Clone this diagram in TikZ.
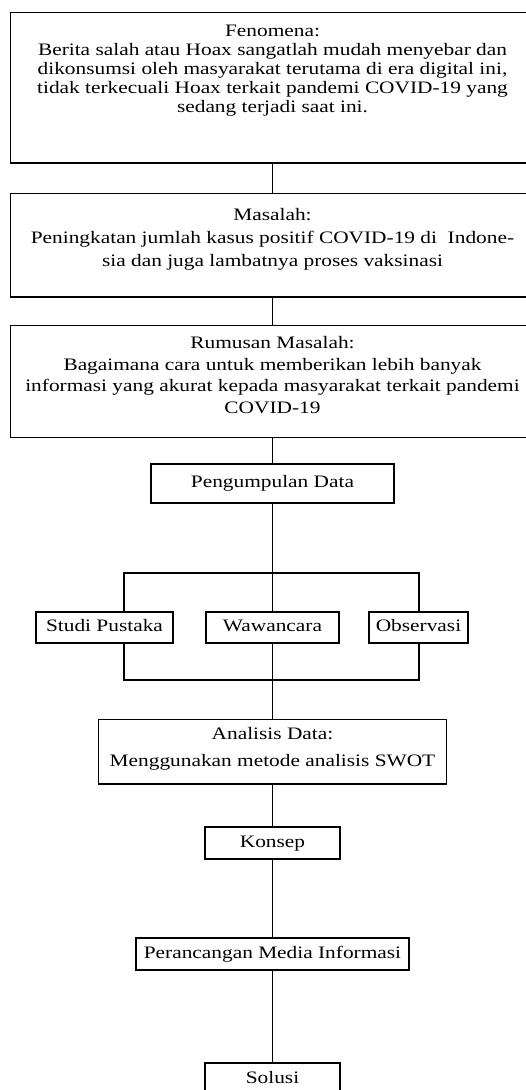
\documentclass[tikz,border=0pt]{standalone}
\usepackage{fontspec}
\setmainfont{Liberation Serif}[FakeStretch=1.22]
\usetikzlibrary{positioning}

\begin{document}
\begin{tikzpicture}[x=1pt,y=-1pt,line width=1.3pt,
  bigbox/.style={draw,line width=1.4pt,align=center,anchor=north,inner xsep=2pt,minimum width=524pt},
  smallbox/.style={draw,line width=1.4pt,align=center,inner sep=0pt,text height=12pt,text depth=4pt,font=\fontsize{17.5}{19}\selectfont}]
  \useasboundingbox (0,0) rectangle (526,1090);
  \clip (0,0) rectangle (526,1090);
  % stages, top to bottom
  \node[bigbox,inner ysep=12pt,text depth=39pt,font=\fontsize{17.5}{19}\selectfont] (fen) at (272.5,12)
    {Fenomena:\\Berita salah atau Hoax sangatlah mudah menyebar dan\\dikonsumsi oleh masyarakat terutama di era digital ini,\\tidak terkecuali Hoax terkait pandemi COVID-19 yang\\sedang terjadi saat ini.};
  \node[bigbox,inner ysep=15pt,text depth=15pt,font=\fontsize{17.5}{23}\selectfont] (mas) at (272.5,193)
    {Masalah:\\Peningkatan jumlah kasus positif COVID-19 di\ \ Indone-\\sia dan juga lambatnya proses vaksinasi};
  \node[bigbox,inner ysep=11pt,text depth=13pt,font=\fontsize{17.5}{21.5}\selectfont] (rum) at (272.5,325)
    {Rumusan Masalah:\\Bagaimana cara untuk memberikan lebih banyak\\informasi yang akurat kepada masyarakat terkait pandemi\\COVID-19};
  \node[smallbox,minimum width=243pt,minimum height=39pt] (pen) at (272.5,483.5) {Pengumpulan Data};
  \node[smallbox,minimum width=137pt,minimum height=31pt] (stu) at (104.5,627.5) {Studi Pustaka};
  \node[smallbox,minimum width=133pt,minimum height=31pt] (waw) at (272.5,627.5) {Wawancara};
  \node[smallbox,minimum width=99pt,minimum height=31pt] (obs) at (418.5,627.5) {Observasi};
  \node[bigbox,inner ysep=8pt,text depth=9pt,minimum width=348pt,font=\fontsize{17.5}{27}\selectfont] (ana) at (272.5,719)
    {Analisis Data:\\Menggunakan metode analisis SWOT};
  \node[smallbox,minimum width=135pt,minimum height=32pt] (kon) at (272.5,843) {Konsep};
  \node[smallbox,minimum width=273pt,minimum height=32pt] (per) at (272.5,954) {Perancangan Media Informasi};
  \node[smallbox,minimum width=135pt,minimum height=32pt] (sol) at (272.5,1079) {Solusi};
  % fork and join of the three methods
  \coordinate (forkL) at (124,573);
  \coordinate (forkR) at (419,573);
  \coordinate (joinL) at (124,680);
  \coordinate (joinR) at (419,680);
  \draw (fen) -- (mas);
  \draw (mas) -- (rum);
  \draw (rum) -- (pen);
  \draw (pen) -- (waw);
  \draw (forkL |- stu.north) -- (forkL) -- (forkR) -- (forkR |- obs.north);
  \draw (stu.south -| joinL) -- (joinL) -- (joinR) -- (obs.south -| joinR);
  \draw (waw) -- (ana);
  \draw (ana) -- (kon);
  \draw (kon) -- (per);
  \draw (per) -- (sol);
\end{tikzpicture}
\end{document}
